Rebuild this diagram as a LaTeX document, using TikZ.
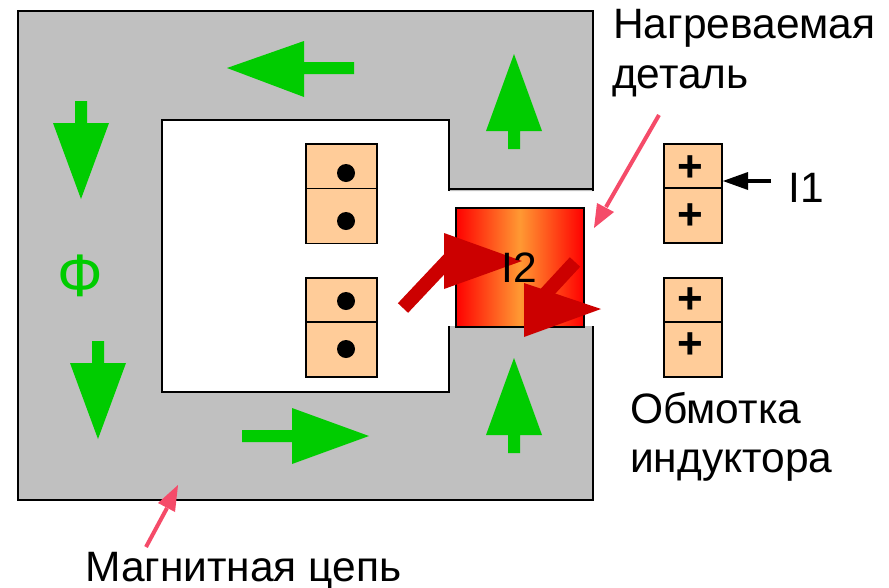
\documentclass[tikz,border=0pt]{standalone}
\usepackage{fontspec}
\setmainfont{Liberation Sans}
\definecolor{coreg}{RGB}{192,192,192}
\definecolor{coilc}{RGB}{255,204,153}
\definecolor{arrg}{RGB}{0,204,0}
\definecolor{arrr}{RGB}{204,0,0}
\definecolor{pinkc}{RGB}{245,75,105}
\definecolor{hot}{RGB}{255,153,51}
\tikzset{
  coreline/.style={draw=black,line width=1.8pt},
  coil/.style={draw=black,line width=1.6pt,fill=coilc,inner sep=0pt,minimum width=71pt},
  coilr/.style={coil,minimum width=58pt},
  lab/.style={anchor=base west,inner sep=0pt,font=\fontsize{42.5}{42.5}\selectfont},
  biglab/.style={anchor=base west,inner sep=0pt,font=\fontsize{60}{60}\selectfont},
  plusm/.style={inner sep=0pt,font=\fontsize{44}{44}\selectfont\bfseries},
  dotm/.style={circle,fill=black,inner sep=0pt,minimum size=18pt},
  garrow/.style={fill=arrg,draw=none},
  rshaft/.style={draw=arrr,line width=14pt},
  rhead/.style={fill=arrr,draw=none},
  pline/.style={draw=pinkc,line width=4pt},
  phead/.style={fill=pinkc,draw=none}
}
\begin{document}
\begin{tikzpicture}[x=1pt,y=-1pt]
\useasboundingbox (0,0) rectangle (889,587);
% magnetic core
\fill[coreg] (18,11) -- (593,11) -- (593,191) -- (449,191) -- (449,120) -- (162,120) -- (162,392) -- (449,392) -- (449,326) -- (593,326) -- (593,500) -- (18,500) -- cycle;
\draw[coreline] (449,326) -- (449,392) -- (162,392) -- (162,120) -- (449,120) -- (449,191);
\draw[coreline] (449,189) -- (593,189);
\draw[coreline] (593,191) -- (593,11) -- (18,11) -- (18,500) -- (593,500) -- (593,326);
% heated part
\node[draw=black,line width=1.6pt,minimum width=128pt,minimum height=119.5pt,inner sep=0pt,left color=red,right color=red,middle color=hot] (part) at (519.7,267.5) {};
% green flux arrows
\fill[garrow] (227,68) -- (304,41) -- (304,62) -- (354,62) -- (354,74) -- (304,74) -- (304,97) -- cycle;
\fill[garrow] (514,54) -- (542,131) -- (520,131) -- (520,149) -- (508,149) -- (508,131) -- (486,131) -- cycle;
\fill[garrow] (514,358) -- (542,435) -- (520,435) -- (520,453) -- (508,453) -- (508,435) -- (486,435) -- cycle;
\fill[garrow] (81,199) -- (109,123) -- (87,123) -- (87,101) -- (75,101) -- (75,123) -- (53,123) -- cycle;
\fill[garrow] (98,439) -- (126,363) -- (104,363) -- (104,341) -- (92,341) -- (92,363) -- (70,363) -- cycle;
\fill[garrow] (369,436) -- (292,408) -- (292,430) -- (242,430) -- (242,442) -- (292,442) -- (292,464) -- cycle;
\node[biglab,text=arrg] (phi) at (57,296) {Ф};
% windings
\node[coil,minimum height=45pt] (a1) at (341.2,166.5) {};
\node[coil,minimum height=55pt] (a2) at (341.2,216) {};
\node[coil,minimum height=44pt] (b1) at (341.2,300) {};
\node[coil,minimum height=55pt] (b2) at (341.2,349.5) {};
\node[dotm] (da1) at (346,173) {};
\node[dotm] (da2) at (346,221) {};
\node[dotm] (db1) at (346,301) {};
\node[dotm] (db2) at (346,349) {};
\node[coilr,minimum height=44pt] (c1) at (693,166) {};
\node[coilr,minimum height=55pt] (c2) at (693,215.5) {};
\node[coilr,minimum height=44pt] (e1) at (693,300) {};
\node[coilr,minimum height=55pt] (e2) at (693,349.5) {};
\node[plusm] (pc1) at (690,169) {+};
\node[plusm] (pc2) at (690,217) {+};
\node[plusm] (pe1) at (690,301) {+};
\node[plusm] (pe2) at (690,346) {+};
% red current arrows
\coordinate (r1a) at (403,308); \coordinate (r1b) at (452,256);
\coordinate (r2a) at (575,262); \coordinate (r2b) at (538,302);
\draw[rshaft] (r1a) -- (r1b);
\fill[rhead] (444,233) -- (522,261) -- (444,289) -- cycle;
\draw[rshaft] (r2a) -- (r2b);
\fill[rhead] (524,283) -- (601,309) -- (524,337) -- cycle;
% labels
\node[lab] (i2) at (501,282) {I2};
\node[lab] (i1) at (788,202) {I1};
\node[lab] (t1) at (613,38) {Нагреваемая};
\node[lab] (t2) at (612,88) {деталь};
\node[lab] (t3) at (630,423) {Обмотка};
\node[lab] (t4) at (630,472) {индуктора};
\node[lab] (t5) at (85,581) {Магнитная цепь};
% pointers
\coordinate (p1a) at (659,115); \coordinate (p1b) at (606,207);
\draw[pline] (p1a) -- (p1b);
\fill[phead] (594,228) -- (597,203) -- (614,212) -- cycle;
\coordinate (p2a) at (146,547); \coordinate (p2b) at (167,508);
\draw[pline] (p2a) -- (p2b);
\fill[phead] (178,485) -- (175,512) -- (158,503) -- cycle;
\coordinate (p3a) at (771,181); \coordinate (p3b) at (745,181);
\draw[draw=black,line width=4pt] (p3a) -- (p3b);
\fill[black] (723,181) -- (748,172) -- (748,190) -- cycle;
\end{tikzpicture}
\end{document}
